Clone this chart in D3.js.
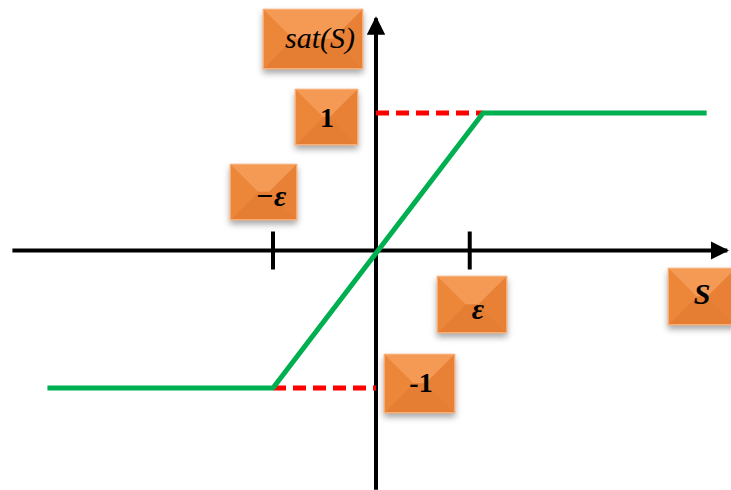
<!DOCTYPE html>
<html lang="en">
<head>
<meta charset="UTF-8">
<script src="https://d3js.org/d3.v7.min.js"></script>
<title>sat(S)</title>
<style>
  body { margin: 0; background: #fff; }
  text.lbl { font-family: 'Liberation Serif', serif; fill: #000; text-anchor: middle; }
</style>
</head>
<body>
<svg width="731" height="490"></svg>
<script>
// data, x in units of epsilon, y in units of sat
const satCurve = [[-3.19, -1], [-1, -1], [1.04, 1], [3.21, 1]];
const dashLower = [[-1, -1], [0, -1]];
const dashUpper = [[0, 1], [1.04, 1]];
const tickValues = [-1, 0.91];
const xExtent = [-3.53, 3.41];
const yExtent = [-1.74, 1.69];
const labelTexts = ["sat(S)", "1", "\u2212\u03b5", "\u03b5", "-1", "S"];

// layout of the orange boxes (pixels)
const boxes = [
  {x: 263, y: 9,   w: 100, h: 60, tx: 320, ty: 48,  italic: true,  bold: false, size: 30},
  {x: 295, y: 89,  w: 63,  h: 56, tx: 327, ty: 127, italic: false, bold: true,  size: 28},
  {x: 230, y: 164, w: 67,  h: 56, tx: 271, ty: 206, italic: true,  bold: true,  size: 30},
  {x: 437, y: 276, w: 70,  h: 57, tx: 478, ty: 319, italic: true,  bold: true,  size: 30},
  {x: 384, y: 354, w: 71,  h: 59, tx: 421, ty: 392, italic: false, bold: true,  size: 28},
  {x: 668, y: 268, w: 68,  h: 57, tx: 702, ty: 304, italic: true,  bold: true,  size: 30}
];

const svg = d3.select("svg");
const x = d3.scaleLinear().domain([-1, 1]).range([273, 479]);
const y = d3.scaleLinear().domain([-1, 1]).range([388, 113]);

const defs = svg.append("defs");
defs.append("filter").attr("id", "shadow").attr("x", "-20%").attr("y", "-20%")
    .attr("width", "140%").attr("height", "150%")
  .append("feDropShadow").attr("dx", 0).attr("dy", 4).attr("stdDeviation", 3)
    .attr("flood-color", "#000").attr("flood-opacity", 0.35);
defs.append("marker").attr("id", "arrow").attr("viewBox", "0 0 10 10")
    .attr("refX", 9).attr("refY", 5).attr("markerWidth", 4.6).attr("markerHeight", 4.6)
    .attr("markerUnits", "strokeWidth").attr("orient", "auto")
  .append("path").attr("d", "M0,0 L10,5 L0,10 Z").attr("fill", "#000");

const line = d3.line().x(d => x(d[0])).y(d => y(d[1]));

// axes
svg.append("line")
    .attr("x1", x(xExtent[0])).attr("x2", x(xExtent[1]))
    .attr("y1", y(0)).attr("y2", y(0))
    .attr("stroke", "#000").attr("stroke-width", 4).attr("marker-end", "url(#arrow)");
svg.append("line")
    .attr("x1", x(0)).attr("x2", x(0))
    .attr("y1", y(yExtent[0])).attr("y2", y(yExtent[1]))
    .attr("stroke", "#000").attr("stroke-width", 4).attr("marker-end", "url(#arrow)");

svg.selectAll("line.tick").data(tickValues).join("line").attr("class", "tick")
    .attr("x1", d => x(d)).attr("x2", d => x(d))
    .attr("y1", y(0) - 19).attr("y2", y(0) + 19)
    .attr("stroke", "#000").attr("stroke-width", 4);

// dashed guides
[dashLower, dashUpper].forEach(seg => {
  svg.append("path").attr("d", line(seg))
      .attr("fill", "none").attr("stroke", "#ff0000").attr("stroke-width", 5)
      .attr("stroke-dasharray", "13,7");
});

// saturation curve
svg.append("path").attr("d", line(satCurve))
    .attr("fill", "none").attr("stroke", "#00b050").attr("stroke-width", 5)
    .attr("stroke-linejoin", "round");

// bevelled label boxes
boxes.forEach((b, i) => {
  const g = svg.append("g").attr("filter", "url(#shadow)");
  const x0 = b.x, y0 = b.y, x1 = b.x + b.w, y1 = b.y + b.h;
  const cy = b.y + b.h / 2, k = Math.min(b.w, b.h) / 2;
  const faces = [
    {p: [[x0, y0], [x1, y0], [x1 - k, cy], [x0 + k, cy]], c: "#f59a55"},
    {p: [[x0, y1], [x1, y1], [x1 - k, cy], [x0 + k, cy]], c: "#e57d30"},
    {p: [[x0, y0], [x0 + k, cy], [x0, y1]], c: "#ec8639"},
    {p: [[x1, y0], [x1 - k, cy], [x1, y1]], c: "#e88136"}
  ];
  g.selectAll("polygon").data(faces).join("polygon")
      .attr("points", d => d.p.map(q => q.join(",")).join(" "))
      .attr("fill", d => d.c).attr("stroke", d => d.c).attr("stroke-width", 0.5);
  svg.append("rect").attr("x", x0 + 0.5).attr("y", y0 + 0.5)
      .attr("width", b.w - 1).attr("height", b.h - 1)
      .attr("fill", "none").attr("stroke", "#f8ad74").attr("stroke-width", 1);
  svg.append("text").attr("class", "lbl")
      .attr("x", b.tx).attr("y", b.ty)
      .style("font-size", b.size + "px")
      .style("font-style", b.italic ? "italic" : "normal")
      .style("font-weight", b.bold ? "bold" : "normal")
      .text(labelTexts[i]);
});
</script>
</body>
</html>
